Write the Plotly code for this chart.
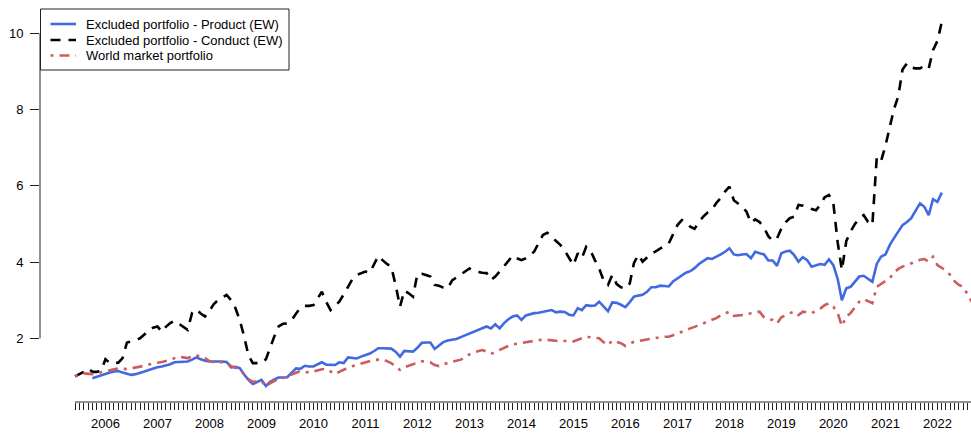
import pandas as pd
import plotly.graph_objects as go

# Monthly observations starting June 2005
start_month = "2005-06-01"

conduct_ew = [
    1.00, 1.06, 1.12, 1.21, 1.12, 1.12, 1.15, 1.45, 1.35, 1.35, 1.36, 1.48,
    1.89, 1.92, 1.95, 2.00, 2.10, 2.18, 2.28, 2.31, 2.17, 2.30, 2.40, 2.46,
    2.38, 2.30, 2.22, 2.66, 2.76, 2.65, 2.57, 2.72, 2.90, 3.00, 3.08, 3.14,
    3.00, 2.80, 2.48, 2.05, 1.55, 1.35, 1.35, 1.35, 1.45, 1.75, 2.05, 2.31,
    2.38, 2.39, 2.48, 2.65, 2.80, 2.85, 2.85, 2.87, 3.05, 3.22, 2.95, 2.74,
    2.85, 2.96, 3.15, 3.35, 3.55, 3.66, 3.70, 3.75, 3.72, 3.95, 4.16, 4.05,
    3.95, 3.88, 3.40, 2.83, 3.25, 3.18, 3.09, 3.69, 3.69, 3.66, 3.62, 3.40,
    3.38, 3.33, 3.31, 3.52, 3.60, 3.66, 3.75, 3.83, 3.78, 3.74, 3.72, 3.71,
    3.53, 3.62, 3.75, 3.90, 4.05, 4.17, 4.10, 4.05, 4.10, 4.16, 4.28, 4.50,
    4.71, 4.77, 4.68, 4.55, 4.45, 4.30, 4.10, 3.92, 4.23, 4.10, 4.40, 4.30,
    4.05, 3.83, 3.52, 3.40, 3.66, 3.42, 3.34, 3.31, 3.44, 3.97, 4.19, 4.01,
    4.12, 4.22, 4.28, 4.36, 4.42, 4.49, 4.75, 4.97, 5.10, 5.05, 4.93, 4.87,
    5.05, 5.19, 5.30, 5.38, 5.55, 5.68, 5.85, 5.98, 5.62, 5.54, 5.45, 5.32,
    5.03, 5.12, 5.05, 4.90, 4.68, 4.56, 4.62, 4.88, 5.05, 5.15, 5.19, 5.50,
    5.48, 5.42, 5.40, 5.36, 5.50, 5.70, 5.76, 5.54, 4.50, 3.79, 4.55, 4.80,
    5.00, 5.15, 5.23, 5.05, 4.97, 6.75, 6.65, 7.05, 7.55, 8.00, 8.35, 9.05,
    9.21, 9.10, 9.08, 9.08, 9.15, 9.08, 9.56, 9.80, 10.30,
]

product_ew = [
    None, None, None, None, 0.95, 0.99, 1.04, 1.07, 1.10, 1.13, 1.14, 1.10,
    1.06, 1.04, 1.06, 1.09, 1.13, 1.17, 1.21, 1.24, 1.26, 1.28, 1.32, 1.37,
    1.38, 1.38, 1.39, 1.44, 1.50, 1.45, 1.41, 1.39, 1.39, 1.40, 1.39, 1.38,
    1.24, 1.25, 1.22, 1.05, 0.91, 0.80, 0.86, 0.91, 0.75, 0.85, 0.92, 0.97,
    0.97, 0.98, 1.10, 1.21, 1.20, 1.28, 1.26, 1.26, 1.32, 1.37, 1.31, 1.30,
    1.30, 1.37, 1.35, 1.50, 1.49, 1.47, 1.52, 1.56, 1.60, 1.66, 1.74, 1.74,
    1.74, 1.73, 1.65, 1.52, 1.67, 1.65, 1.65, 1.75, 1.88, 1.89, 1.89, 1.72,
    1.82, 1.90, 1.94, 1.96, 1.98, 2.03, 2.08, 2.13, 2.17, 2.22, 2.27, 2.31,
    2.26, 2.37, 2.26, 2.40, 2.50, 2.57, 2.60, 2.48, 2.60, 2.63, 2.66, 2.67,
    2.69, 2.71, 2.74, 2.68, 2.70, 2.69, 2.62, 2.60, 2.79, 2.74, 2.87, 2.85,
    2.86, 2.96, 2.83, 2.71, 2.94, 2.93, 2.88, 2.82, 2.95, 3.09, 3.12, 3.14,
    3.22, 3.34, 3.34, 3.38, 3.37, 3.36, 3.49, 3.57, 3.66, 3.72, 3.76, 3.84,
    3.95, 4.03, 4.10, 4.08, 4.13, 4.20, 4.27, 4.36, 4.20, 4.18, 4.20, 4.21,
    4.10, 4.27, 4.23, 4.20, 4.04, 4.04, 3.90, 4.23, 4.28, 4.30, 4.18, 4.01,
    4.13, 4.05, 3.88, 3.92, 3.95, 3.93, 4.07, 3.92, 3.55, 3.00, 3.31, 3.35,
    3.48, 3.62, 3.64, 3.55, 3.48, 3.95, 4.14, 4.20, 4.45, 4.62, 4.80, 4.97,
    5.05, 5.15, 5.35, 5.54, 5.45, 5.23, 5.65, 5.58, 5.82,
]

world_market = [
    1.00, 1.05, 1.08, 1.07, 1.06, 1.08, 1.10, 1.13, 1.16, 1.19, 1.21, 1.20,
    1.19, 1.21, 1.23, 1.25, 1.28, 1.31, 1.34, 1.36, 1.38, 1.40, 1.43, 1.48,
    1.52, 1.50, 1.48, 1.53, 1.56, 1.50, 1.48, 1.40, 1.37, 1.37, 1.37, 1.37,
    1.27, 1.23, 1.19, 1.05, 0.93, 0.86, 0.87, 0.88, 0.73, 0.82, 0.88, 0.94,
    0.96, 0.98, 1.05, 1.10, 1.14, 1.12, 1.10, 1.13, 1.17, 1.19, 1.20, 1.14,
    1.06, 1.12, 1.18, 1.23, 1.27, 1.30, 1.33, 1.36, 1.41, 1.43, 1.44, 1.45,
    1.40, 1.35, 1.26, 1.17, 1.24, 1.28, 1.30, 1.35, 1.40, 1.38, 1.37, 1.30,
    1.27, 1.32, 1.35, 1.38, 1.41, 1.44, 1.50, 1.58, 1.63, 1.66, 1.69, 1.65,
    1.59, 1.64, 1.70, 1.74, 1.80, 1.84, 1.86, 1.87, 1.89, 1.91, 1.93, 1.95,
    1.97, 1.96, 1.94, 1.92, 1.92, 1.93, 1.94, 1.92, 1.97, 2.00, 2.04, 2.03,
    2.01, 2.00, 1.90, 1.82, 1.94, 1.91, 1.87, 1.80, 1.85, 1.91, 1.93, 1.95,
    1.98, 2.00, 2.02, 2.03, 2.04, 2.04, 2.08, 2.13, 2.17, 2.22, 2.26, 2.30,
    2.35, 2.39, 2.44, 2.48, 2.53, 2.60, 2.66, 2.70, 2.59, 2.60, 2.61, 2.62,
    2.66, 2.68, 2.70, 2.55, 2.50, 2.48, 2.39, 2.55, 2.61, 2.66, 2.70, 2.61,
    2.70, 2.68, 2.66, 2.72, 2.78, 2.87, 2.92, 2.83, 2.66, 2.32, 2.57, 2.66,
    2.80, 2.96, 3.03, 2.98, 2.92, 3.35, 3.42, 3.50, 3.58, 3.72, 3.82, 3.88,
    3.92, 3.96, 4.01, 4.06, 4.08, 4.01, 4.14, 3.92, 3.85, 3.78, 3.66, 3.50,
    3.40, 3.35, 3.15, 2.95,
]

y_ticks = [2, 4, 6, 8, 10]

n_months = len(world_market)
months = pd.date_range(start_month, periods=n_months, freq="MS")


def pad(values):
    return list(values) + [None] * (n_months - len(values))


series = [
    ("Excluded portfolio - Product (EW)", pad(product_ew),
     dict(color="#4169E1", width=2.6, dash="solid")),
    ("Excluded portfolio - Conduct (EW)", pad(conduct_ew),
     dict(color="#000000", width=2.6, dash="10px,8px")),
    ("World market portfolio", pad(world_market),
     dict(color="#CD5C5C", width=2.6, dash="3px,6px,10px,6px")),
]

fig = go.Figure()
for name, vals, line in series:
    fig.add_trace(go.Scatter(x=months, y=vals, mode="lines", name=name,
                             line=line, connectgaps=False, showlegend=False,
                             hoverinfo="skip"))

tick_text = [str(d.year) if d.month == 1 else "" for d in months]

font_family = "Liberation Sans, Arial, sans-serif"

FIG_W, FIG_H = 971, 434
M_L, M_R, M_T, M_B = 40, 0, 8, 32
PLOT_W = FIG_W - M_L - M_R
PLOT_H = FIG_H - M_T - M_B


def px_x(p):
    return (p - M_L) / PLOT_W


def px_y(p):
    return (PLOT_H + M_T - p) / PLOT_H


shapes = [
    dict(type="line", xref="paper", yref="y", x0=0, x1=0,
         y0=y_ticks[0], y1=y_ticks[-1], line=dict(color="#222", width=1)),
    dict(type="line", xref="x", yref="paper", x0=months[0], x1=months[-1],
         y0=0, y1=0, line=dict(color="#222", width=1)),
    # legend box
    dict(type="rect", xref="paper", yref="paper",
         x0=px_x(40.5), x1=px_x(289), y0=px_y(9), y1=px_y(70),
         line=dict(color="#222", width=1), fillcolor="white", layer="above"),
]
annotations = []
row_y = [24, 40, 55.5]
for (name, _, line), ry in zip(series, row_y):
    shapes.append(dict(type="line", xref="paper", yref="paper",
                       x0=px_x(50.5), x1=px_x(76), y0=px_y(ry), y1=px_y(ry),
                       line=dict(color=line["color"], width=line["width"],
                                 dash=line["dash"]), layer="above"))
    annotations.append(dict(xref="paper", yref="paper", x=px_x(84), y=px_y(ry),
                            xanchor="left", yanchor="middle", showarrow=False,
                            text=name,
                            font=dict(size=13, family=font_family, color="black")))

fig.update_layout(
    width=FIG_W, height=FIG_H,
    margin=dict(l=M_L, r=M_R, t=M_T, b=M_B),
    paper_bgcolor="white", plot_bgcolor="white",
    font=dict(family=font_family, size=13, color="black"),
    showlegend=False,
    hovermode=False,
    xaxis=dict(
        range=["2004-09-28", "2022-08-25"],
        tickmode="array", tickvals=list(months), ticktext=tick_text,
        ticks="outside", ticklen=7, tickwidth=1, tickcolor="#222",
        tickangle=0, showgrid=False, zeroline=False, showline=False,
        ticklabelstandoff=2,
        tickfont=dict(size=13, family=font_family, color="black"),
    ),
    yaxis=dict(
        range=[0.329, 10.664],
        tickmode="array", tickvals=y_ticks,
        ticktext=[str(v) for v in y_ticks],
        ticks="outside", ticklen=9, tickwidth=1, tickcolor="#222",
        showgrid=False, zeroline=False, showline=False,
        ticklabelstandoff=4,
        tickfont=dict(size=13, family=font_family, color="black"),
    ),
    shapes=shapes,
    annotations=annotations,
)

fig.write_html(
    "out.html",
    config={"displayModeBar": False},
    post_script="document.body.style.margin='0';"
                "document.body.style.overflow='hidden';",
)
